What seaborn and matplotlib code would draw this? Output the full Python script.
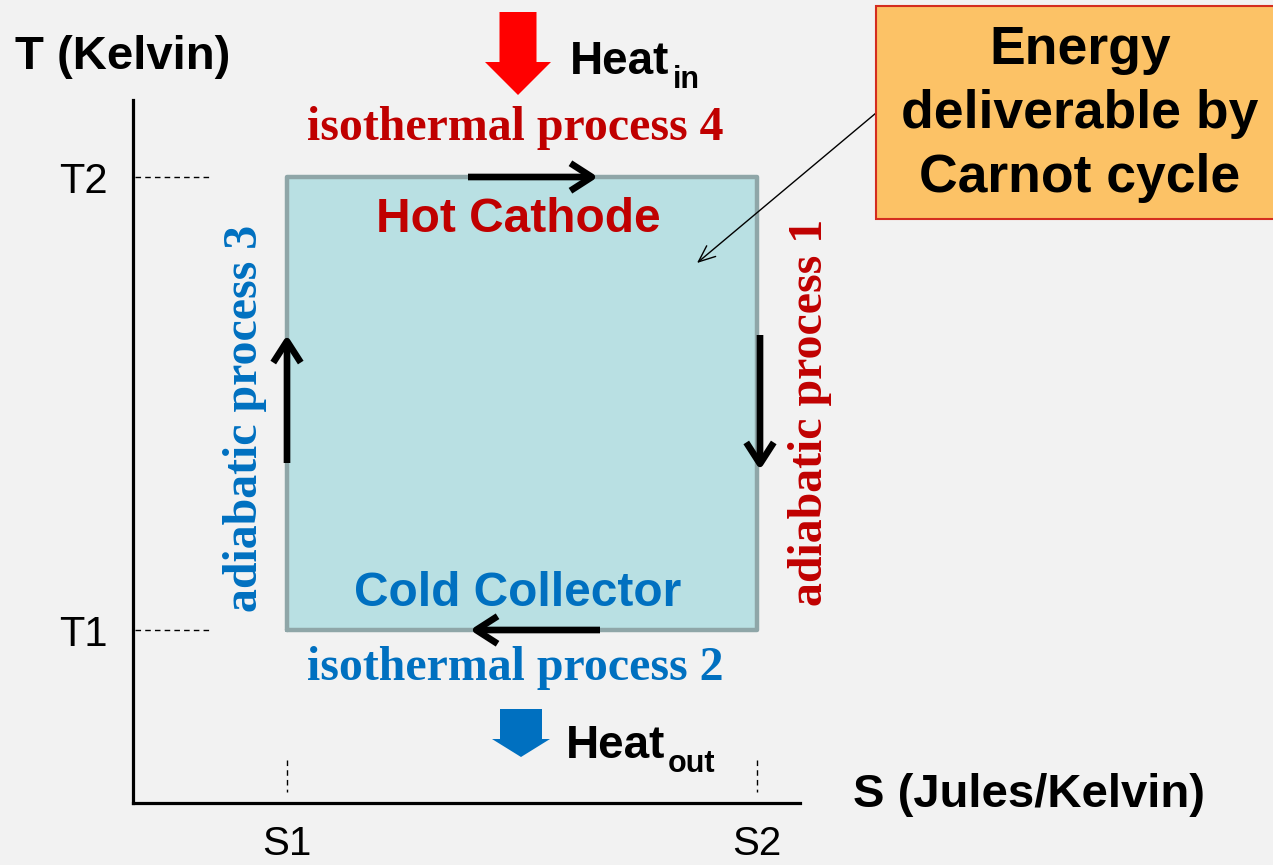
import matplotlib
matplotlib.use("Agg")
import matplotlib.pyplot as plt
import seaborn as sns
import pandas as pd
from matplotlib.patches import Rectangle

# entropy / temperature levels of the cycle
s_levels = [1.0, 2.0]
s_labels = ["S1", "S2"]
t_levels = [1.0, 2.0]
t_labels = ["T1", "T2"]

# corners of the Carnot rectangle, walked in order
cycle_s = [1.0, 2.0, 2.0, 1.0, 1.0]
cycle_t = [1.0, 1.0, 2.0, 2.0, 1.0]

RED = "#c00000"
BLUE = "#0070c0"
W, H = 1273, 865

sns.set_theme(style="white")
plt.rcParams["font.family"] = ["Liberation Sans", "DejaVu Sans"]
plt.rcParams["text.color"] = "black"

fig = plt.figure(figsize=(12.73, 8.65), dpi=100, facecolor="#f2f2f2")
ax = fig.add_axes([133 / W, 62 / H, 667 / W, 703 / H])
ax.set_facecolor("none")

# pixel -> data helpers for placing the annotations
def to_s(px):
    return 1 + (px - 287) / 470

def to_t(py):
    return 1 + (630 - py) / 453

def fx(px):
    return px / W

def fy(py):
    return 1 - py / H

ax.set_xlim(to_s(133), to_s(800))
ax.set_ylim(to_t(803), to_t(100))
ax.set_xticks([])
ax.set_yticks([])
for side in ["top", "right"]:
    ax.spines[side].set_visible(False)
for side in ["left", "bottom"]:
    ax.spines[side].set_color("black")
    ax.spines[side].set_linewidth(2.3)

# the cycle
ax.fill(cycle_s, cycle_t, color="#b9e0e3", zorder=1)
df = pd.DataFrame({"S": cycle_s, "T": cycle_t})
sns.lineplot(data=df, x="S", y="T", sort=False, estimator=None,
             color="#8fa6a8", lw=3.2, ax=ax, zorder=2)

# dashed guides and level labels
for t, lab in zip(t_levels, t_labels):
    ax.plot([to_s(135), to_s(210)], [t, t], color="black", lw=1, ls=(0, (4, 3)))
    fig.text(fx(83), fy(630 - (t - 1) * 453 + 5), lab, fontsize=30,
             ha="center", va="center")
for s, lab in zip(s_levels, s_labels):
    ax.plot([s, s], [to_t(760), to_t(792)], color="black", lw=1, ls=(0, (4, 3)))
    fig.text(fx(287 + (s - 1) * 470), fy(844), lab, fontsize=29,
             ha="center", va="center")

# direction arrows along each process
arrow_kw = dict(arrowstyle="->,head_length=0.7,head_width=0.45", color="black",
                lw=4.8, mutation_scale=22, shrinkA=0, shrinkB=0,
                joinstyle="round", capstyle="butt")
ax.annotate("", xy=(to_s(598), 2), xytext=(to_s(468), 2), arrowprops=arrow_kw)
ax.annotate("", xy=(to_s(470), 1), xytext=(to_s(600), 1), arrowprops=arrow_kw)
ax.annotate("", xy=(1, to_t(335)), xytext=(1, to_t(463)), arrowprops=arrow_kw)
ax.annotate("", xy=(to_s(760), to_t(470)), xytext=(to_s(760), to_t(335)),
            arrowprops=arrow_kw)

# heat in / out block arrows
ax.arrow(to_s(518), to_t(12), 0, to_t(95) - to_t(12), width=37 / 470,
         head_width=66 / 470, head_length=33 / 453, length_includes_head=True,
         color="#ff0000", lw=0, clip_on=False)
ax.arrow(to_s(521), to_t(709), 0, to_t(757) - to_t(709), width=42 / 470,
         head_width=58 / 470, head_length=18 / 453, length_includes_head=True,
         color=BLUE, lw=0, clip_on=False)

bold = dict(fontweight="bold")
fig.text(fx(570), fy(62), "Heat", fontsize=33, va="center", **bold)
fig.text(fx(673), fy(80), "in", fontsize=22, va="center", **bold)
fig.text(fx(566), fy(746), "Heat", fontsize=33, va="center", **bold)
fig.text(fx(668), fy(764), "out", fontsize=22, va="center", **bold)

# process labels
serif = ["Liberation Serif", "DejaVu Serif"]
fig.text(fx(515), fy(128), "isothermal process 4", fontsize=34.5, color=RED,
         family=serif, ha="center", va="center", **bold)
fig.text(fx(515), fy(668), "isothermal process 2", fontsize=34.5, color=BLUE,
         family=serif, ha="center", va="center", **bold)
fig.text(fx(245), fy(418), "adiabatic process 3", fontsize=34.5, color=BLUE,
         family=serif, ha="center", va="center", rotation=90, **bold)
fig.text(fx(810), fy(412), "adiabatic process 1", fontsize=34.5, color=RED,
         family=serif, ha="center", va="center", rotation=90, **bold)

fig.text(fx(518), fy(220), "Hot Cathode", fontsize=34.5, color=RED,
         ha="center", va="center", **bold)
fig.text(fx(518), fy(593), "Cold Collector", fontsize=34.5, color=BLUE,
         ha="center", va="center", **bold)

# axis titles
fig.text(fx(15), fy(57), "T (Kelvin)", fontsize=34, va="center", **bold)
fig.text(fx(853), fy(795), "S (Jules/Kelvin)", fontsize=34, va="center", **bold)

# callout box
fig.patches.append(Rectangle((fx(876), fy(219)), fx(1273 - 876 + 5), (219 - 6) / H,
                             transform=fig.transFigure, facecolor="#fcc266",
                             edgecolor="#d42d1f", lw=1.5, zorder=0))
for py, line in [(50, "Energy"), (114, "deliverable by"), (178, "Carnot cycle")]:
    fig.text(fx(1080), fy(py), line, fontsize=38.5, ha="center", va="center", **bold)

ax.annotate("", xy=(to_s(697), to_t(263)), xytext=(to_s(876), to_t(113)),
            arrowprops=dict(arrowstyle="->,head_length=0.6,head_width=0.25",
                            color="black", lw=1, mutation_scale=20,
                            shrinkA=0, shrinkB=0),
            annotation_clip=False)

fig.savefig("out.png", dpi=100, facecolor=fig.get_facecolor())
